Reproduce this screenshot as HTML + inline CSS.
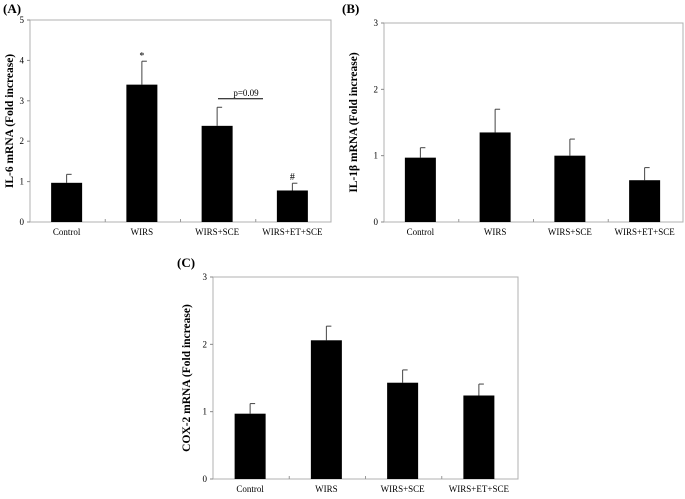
<!DOCTYPE html>
<html><head><meta charset="utf-8"><style>
body{margin:0;background:#fff;}
svg text{font-family:"Liberation Serif",serif;fill:#000;}
</style></head><body>
<svg id="fig" width="685" height="494" viewBox="0 0 685 494" xmlns="http://www.w3.org/2000/svg"></svg>
<script>
const categories = ["Control","WIRS","WIRS+SCE","WIRS+ET+SCE"];
const il6Values = [0.97, 3.4, 2.38, 0.78];
const il6Errors = [0.21, 0.58, 0.46, 0.18];
const il6Ticks = [0,1,2,3,4,5];
const il1bValues = [0.97, 1.35, 1.0, 0.63];
const il1bErrors = [0.15, 0.35, 0.25, 0.19];
const il1bTicks = [0,1,2,3];
const cox2Values = [0.97, 2.06, 1.43, 1.24];
const cox2Errors = [0.15, 0.21, 0.19, 0.17];
const cox2Ticks = [0,1,2,3];

const NS = "http://www.w3.org/2000/svg";
const svg = document.getElementById('fig');
function mk(tag, attrs, parent){
  const e = document.createElementNS(NS, tag);
  for (const k in attrs) e.setAttribute(k, attrs[k]);
  (parent||svg).appendChild(e);
  return e;
}
function panel(id, letter, lx, ly, box, values, errors, ticks, ytitle, titleX){
  const g = mk('g', {});
  
  
  const max = ticks[ticks.length-1];
  const y = v => box.b - (v/max)*(box.b-box.t);
  const bw = (box.r-box.l)/categories.length;
  const x = i => box.l + bw*(i+0.5);
  const fr = mk('rect', {x:box.l, y:box.t, width:box.r-box.l, height:box.b-box.t, fill:'none', stroke:'#b0b0b0', 'stroke-width':1}, g);
  
  
  const lt = mk('text', {x:lx, y:ly, 'font-size':13, 'font-weight':'bold'}, g);
  lt.textContent = letter;
  
  
  ticks.forEach(t => {
    const tl = mk('text', {x:box.l-6, y:y(t)+3, 'font-size':9, 'text-anchor':'end'}, g);
    tl.textContent = t;
    
    
    mk('line', {x1:box.l-3, x2:box.l, y1:y(t), y2:y(t), stroke:'#888'}, g);
  });
  for (let i=1;i<categories.length;i++){
    mk('line', {x1:box.l+bw*i, x2:box.l+bw*i, y1:box.b, y2:box.b-3, stroke:'#999'}, g);
  }
  const ty = (box.t+box.b)/2;
  const yt = mk('text', {x:titleX, y:ty, 'font-size':11.5, 'font-weight':'bold', 'text-anchor':'middle', transform:'rotate(-90 '+titleX+' '+ty+')'}, g);
  yt.textContent = ytitle;
  
  
  categories.forEach((c,i) => {
    const cx = x(i)-1;
    const er = mk('line', {x1:cx, x2:cx, y1:y(values[i]), y2:y(values[i]+errors[i]), stroke:'#444', 'stroke-width':1}, g);
    
    
    mk('line', {x1:cx, x2:cx+5, y1:y(values[i]+errors[i]), y2:y(values[i]+errors[i]), stroke:'#444'}, g);
    const b = mk('rect', {x:cx-15.5, y:y(values[i]), width:31, height:box.b-y(values[i]), fill:'#000'}, g);
    
    
    const xl = mk('text', {x:cx, y:box.b+13, 'font-size':9, 'text-anchor':'middle'}, g);
    xl.textContent = c;
    
    
  });
  return {y, x, g};
}
const A = panel('il6', '(A)', 3, 13, {l:30, r:331, t:20, b:222}, il6Values, il6Errors, il6Ticks, 'IL-6 mRNA (Fold increase)', 13);
const st = mk('text', {x:A.x(1)-1, y:A.y(il6Values[1]+il6Errors[1])-2, 'font-size':10, 'text-anchor':'middle'}, A.g);
st.textContent = '*';


const hs = mk('text', {x:A.x(3)-1, y:A.y(il6Values[3]+il6Errors[3])-3, 'font-size':10, 'text-anchor':'middle'}, A.g);
hs.textContent = '#';


const pl = mk('line', {x1:218, x2:263, y1:A.y(3.05), y2:A.y(3.05), stroke:'#000', 'stroke-width':1}, A.g);


const pt = mk('text', {x:246, y:A.y(3.05)-3, 'font-size':9, 'text-anchor':'middle'}, A.g);
pt.textContent = 'p=0.09';


panel('il1b', '(B)', 342, 13, {l:384, r:683, t:23, b:222}, il1bValues, il1bErrors, il1bTicks, 'IL-1β mRNA (Fold increase)', 357);
panel('cox2', '(C)', 177, 267, {l:213, r:518, t:277, b:479}, cox2Values, cox2Errors, cox2Ticks, 'COX-2 mRNA (Fold increase)', 190);
</script>
</body></html>
